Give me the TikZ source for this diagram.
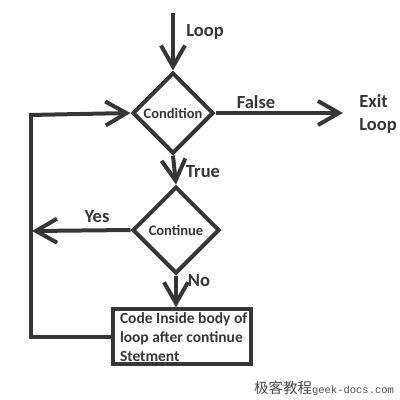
\documentclass[tikz,border=0pt]{standalone}
\usepackage{fontspec}
\setmainfont{Carlito}
\newfontfamily\cjkfont{Noto Sans CJK SC}
\newfontfamily\wmmono{Liberation Mono}
\usetikzlibrary{shapes.geometric,arrows.meta}
\definecolor{ink}{HTML}{363636}
\definecolor{wm}{HTML}{4A4A4A}
\begin{document}
\begin{tikzpicture}[x=1pt,y=-1pt,
  line width=4pt, draw=ink, text=ink,
  font=\bfseries,
  decision/.style={diamond, draw=ink, line width=4pt, inner sep=0pt, aspect=1, line join=miter,
    font=\bfseries\fontsize{14.5}{16}\selectfont},
  lbl/.style={font=\bfseries\fontsize{18.5}{23}\selectfont},
  arr/.style={draw=ink, line width=4pt, -{Straight Barb[length=21pt,width=24pt]}},
  ln/.style={draw=ink, line width=4pt, line join=miter}
]
\useasboundingbox (0,0) rectangle (400,400);
% nodes
\node[decision, minimum width=81pt, minimum height=81pt] (cond) at (173,113) {Condition};
\node[decision, minimum width=87pt, minimum height=87pt] (cont) at (176,230) {Continue};
\node[draw=ink, line width=3.5pt, minimum width=138pt, minimum height=55pt, inner sep=0pt] (box) at (182,336.5) {};
\node[anchor=north west, align=left, inner sep=0pt, font=\bfseries\fontsize{15.5}{19}\selectfont] (boxtext) at (118,310.5) {Code Inside body of\\loop after continue\\Stetment};
\coordinate (start) at (173,13);
\coordinate (exit) at (343,113);
\coordinate (yesend) at (32,231);
\coordinate (lc) at (31,115);
% labels
\node[lbl] (looplbl) at (205,32) {Loop};
\node[lbl] (falselbl) at (256,102) {False};
\node[lbl, align=left, anchor=west] (exitlbl) at (354,114) {Exit\\Loop};
\node[lbl] (truelbl) at (203,172) {True};
\node[lbl] (yeslbl) at (97,217) {Yes};
\node[lbl] (nolbl) at (199,281) {No};
% connectors
\draw[arr] (start) -- (cond.north);
\draw[arr] (cond.east) -- (exit);
\draw[arr] (cond.south) -- (cont.north);
\draw[arr] (cont.west) -- (yesend);
\draw[arr] (cont.south) -- (cont.south |- box.north);
\draw[ln] (box.west) -| (lc);
\draw[arr] ([xshift=-2pt]lc) -- (cond.west);
% watermark
\node[anchor=east, text=wm, inner sep=0pt] (wmark) at (396,388) {{\cjkfont\mdseries\fontsize{14.5}{16}\selectfont 极客教程}{\wmmono\mdseries\fontsize{10.5}{12}\selectfont geek-docs.com}};
\end{tikzpicture}
\end{document}
